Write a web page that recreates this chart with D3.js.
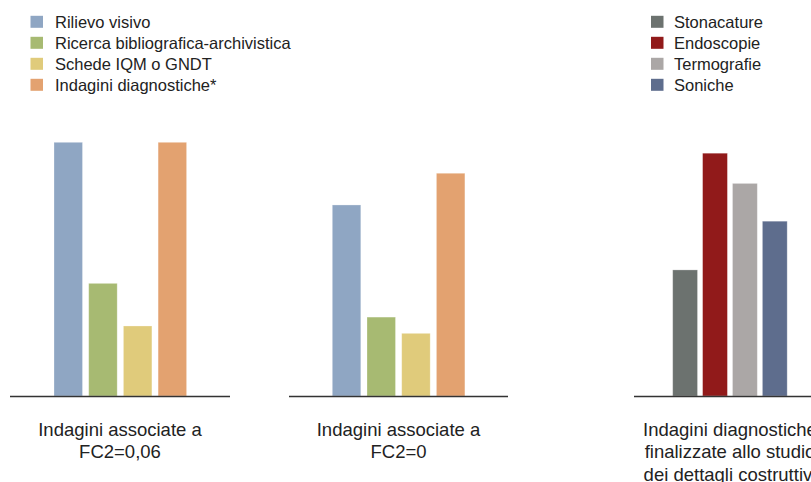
<!DOCTYPE html>
<html>
<head>
<meta charset="utf-8">
<script src="https://cdn.jsdelivr.net/npm/d3@7"></script>
<style>
  html, body { margin: 0; padding: 0; background: #fff; }
  svg { display: block; }
  text { font-family: "Liberation Sans", Arial, Helvetica, sans-serif; fill: #222; }
</style>
</head>
<body>
<svg id="chart" width="811" height="482"></svg>
<script>
// ---- data ----
const categoriesA = ["Rilievo visivo", "Ricerca bibliografica-archivistica", "Schede IQM o GNDT", "Indagini diagnostiche*"];
const valuesFC006 = [100, 44.4, 27.6, 100];
const valuesFC0 = [75.3, 31.1, 24.7, 87.8];
const categoriesB = ["Stonacature", "Endoscopie", "Termografie", "Soniche"];
const valuesDettagli = [49.7, 95.7, 83.8, 68.9];
const panelLabels = [
  ["Indagini associate a", "FC2=0,06"],
  ["Indagini associate a", "FC2=0"],
  ["Indagini diagnostiche", "finalizzate allo studio", "dei dettagli costruttivi"]
];
const colorsA = ["#8fa6c3", "#a7ba72", "#e0cb7b", "#e3a270"];
const colorsB = ["#6c726f", "#911a1a", "#aba7a6", "#5e6d8d"];

// ---- drawing ----
const svg = d3.select("#chart");
const baseY = 396;
const y = d3.scaleLinear().domain([0, 100]).range([baseY, 142.3]);

const panels = [
  { cats: categoriesA, vals: valuesFC006, colors: colorsA, bars: [54, 186.6], line: [10, 230], center: 120, label: panelLabels[0] },
  { cats: categoriesA, vals: valuesFC0, colors: colorsA, bars: [332.3, 464.9], line: [289, 508], center: 398.5, label: panelLabels[1] },
  { cats: categoriesB, vals: valuesDettagli, colors: colorsB, bars: [672.7, 787.2], line: [634, 811], center: 730, label: panelLabels[2] }
];

panels.forEach((p, pi) => {
  const bw = pi === 2 ? 0.17 : 0.179;
  const x = d3.scaleBand().domain(p.cats).range(p.bars).paddingInner(bw).paddingOuter(0);
  const colorScale = d3.scaleOrdinal().domain(p.cats).range(p.colors);
  const g = svg.append("g");
  g.selectAll("rect").data(p.cats.map((c, i) => ({ c, v: p.vals[i] })))
    .join("rect")
    .attr("x", d => x(d.c))
    .attr("width", x.bandwidth())
    .attr("y", d => y(d.v))
    .attr("height", d => baseY - y(d.v))
    .attr("fill", d => colorScale(d.c))
    .attr("stroke", "#ffffff")
    .attr("stroke-opacity", 0.35)
    .attr("stroke-width", 0.8);
  g.append("line")
    .attr("x1", p.line[0]).attr("x2", p.line[1])
    .attr("y1", baseY + 0.5).attr("y2", baseY + 0.5)
    .attr("stroke", "#333").attr("stroke-width", 1.5);
  const t = g.append("text")
    .attr("text-anchor", "middle")
    .attr("font-size", 18.5);
  p.label.forEach((line, li) => {
    t.append("tspan").attr("x", p.center).attr("y", 435.7 + li * 22.6).text(line);
  });
});

// legends
function legend(cats, colors, sx, tx) {
  const g = svg.append("g");
  cats.forEach((c, i) => {
    const by = 28.3 + i * 21;
    g.append("rect").attr("x", sx).attr("y", by - 12.5).attr("width", 12.5).attr("height", 12)
      .attr("fill", colors[i]);
    g.append("text").attr("x", tx).attr("y", by).attr("font-size", 16.5).text(c);
  });
}
legend(categoriesA, colorsA, 30.5, 55);
legend(categoriesB, colorsB, 651, 674);
</script>
</body>
</html>
